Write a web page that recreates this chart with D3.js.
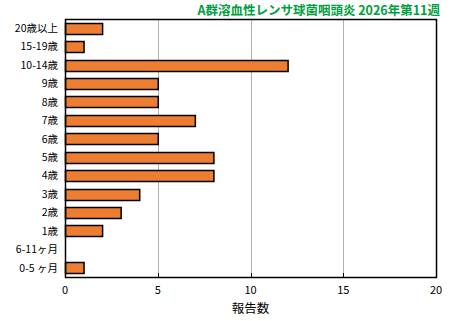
<!DOCTYPE html>
<html><head><meta charset="utf-8">
<script src="https://cdn.jsdelivr.net/npm/d3@7"></script>
<style>body{margin:0;background:#fff;} svg{display:block;}</style>
</head><body>
<script>
const categories = ["20歳以上","15-19歳","10-14歳","9歳","8歳","7歳","6歳","5歳","4歳","3歳","2歳","1歳","6-11ヶ月","0-5 ヶ月"];
const values = [2,1,12,5,5,7,5,8,8,4,3,2,0,1];
const xTicks = [0,5,10,15,20];
const title = "A群溶血性レンサ球菌咽頭炎 2026年第11週";
const xLabel = "報告数";

const W = 461, H = 321;
const m = {left:65, right:25, top:19, bottom:44};
const svg = d3.select("body").append("svg").attr("width",W).attr("height",H);
const font = "'Noto Sans CJK JP', sans-serif";

const x = d3.scaleLinear().domain([0,20]).range([m.left, W-m.right]);
const y = d3.scaleBand().domain(categories).range([m.top, H-m.bottom]).paddingInner(0.4).paddingOuter(0.2);

// grid
svg.append("g").selectAll("line").data(xTicks.slice(1,-1)).join("line")
  .attr("x1",d=>Math.round(x(d))+0.5).attr("x2",d=>Math.round(x(d))+0.5)
  .attr("y1",m.top).attr("y2",H-m.bottom)
  .attr("stroke","#b0b0b0").attr("stroke-width",1);

// inner ticks bottom
svg.append("g").selectAll("line").data(xTicks.slice(1,-1)).join("line")
  .attr("x1",d=>Math.round(x(d))+0.5).attr("x2",d=>Math.round(x(d))+0.5)
  .attr("y1",H-m.bottom-4).attr("y2",H-m.bottom)
  .attr("stroke","#000").attr("stroke-width",1);

// bars
const barData = values.map((v,i)=>({c:categories[i],v})).filter(d=>d.v>0);
svg.append("g").selectAll("rect").data(barData).join("rect")
  .attr("x",x(0)+0.5).attr("y",d=>Math.round(y(d.c))+0.5)
  .attr("width",d=>x(d.v)-x(0)).attr("height",Math.round(y.bandwidth()))
  .attr("fill","#ED7D31").attr("stroke","#000").attr("stroke-width",1.5);

// frame
svg.append("rect").attr("x",m.left+0.5).attr("y",m.top+0.5)
  .attr("width",W-m.left-m.right).attr("height",H-m.top-m.bottom)
  .attr("fill","none").attr("stroke","#000").attr("stroke-width",1.5);

// y labels
svg.append("g").selectAll("text").data(categories).join("text")
  .attr("x",m.left-7).attr("y",d=>y(d)+y.bandwidth()/2)
  .attr("dy","0.36em").attr("text-anchor","end")
  .attr("font-family",font).attr("font-size",10.5).attr("fill","#000").text(d=>d);

// x labels
svg.append("g").selectAll("text").data(xTicks).join("text")
  .attr("x",d=>x(d)).attr("y",H-m.bottom+17)
  .attr("text-anchor","middle").attr("font-family",font).attr("font-size",11).text(d=>d);

svg.append("text").attr("x",(x(0)+x(20))/2).attr("y",H-m.bottom+36)
  .attr("text-anchor","middle").attr("font-family",font).attr("font-size",12.5).text(xLabel);

svg.append("text").attr("x",W-21).attr("y",15).attr("text-anchor","end")
  .attr("font-family",font).attr("font-weight","bold").attr("font-size",12.5)
  .attr("fill","#00A040").text(title);
</script>
</body></html>
